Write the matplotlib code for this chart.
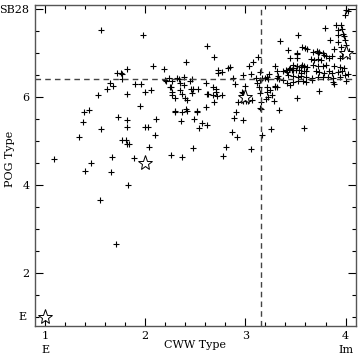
import numpy as np
import matplotlib
matplotlib.use("Agg")
import matplotlib.pyplot as plt
from matplotlib.ticker import MultipleLocator

# CWW type vs POG type for each galaxy
cww = [
    1.09, 1.34, 1.38, 1.39, 1.44, 1.40, 1.46, 1.56, 1.55, 1.71, 1.83, 1.66, 1.67, 1.89,
    1.73, 1.82, 1.82, 1.95, 2.00, 2.03, 2.11, 2.10, 1.77, 1.81, 1.82, 1.84, 2.04, 2.26,
    2.37, 2.48, 2.30, 2.37, 2.42, 2.52, 2.36, 2.49, 2.54, 2.57, 2.62, 2.61, 2.69, 2.91,
    2.89, 2.98, 3.16, 3.34, 2.87, 2.92, 3.17, 3.26, 3.59, 2.81, 2.78, 3.06, 2.93, 2.98,
    3.01, 3.03, 3.16, 3.29,
    1.56, 1.98, 2.08, 2.19, 1.82, 1.72, 1.76, 1.77, 1.77, 1.65, 1.68, 1.62, 1.53, 1.82,
    1.90, 1.96, 2.00, 2.06, 2.20, 2.21, 2.32, 2.26, 2.27, 2.30, 2.62, 2.69, 2.73, 2.77,
    2.73, 2.83, 2.24, 2.27, 2.34, 2.39, 2.45, 2.25, 2.27, 2.35, 2.37, 2.39, 2.40, 2.42,
    2.46, 2.48, 2.47, 2.53, 2.61, 2.62, 2.68, 2.71, 2.68, 2.72, 2.77, 2.30, 2.41, 2.52,
    2.41, 2.47, 2.35, 2.63, 2.71,
    3.04, 3.08, 3.13, 2.98, 3.06, 3.15, 3.24, 3.32, 2.90, 2.88, 2.97, 2.98, 3.12, 3.14,
    3.15, 3.20, 3.22, 3.25, 3.30, 3.34, 3.32, 3.21, 3.00, 3.00, 2.97, 3.07, 3.15, 3.22,
    3.23, 3.27, 3.15, 3.30, 3.33, 3.45, 3.47, 3.42, 3.43, 3.11, 3.17, 3.22, 3.23, 3.38,
    3.42, 3.45, 3.30, 3.32, 2.85,
    3.35, 3.43, 3.52, 3.53, 3.57, 3.62, 3.67, 3.72, 3.77, 3.78, 3.79, 3.84, 3.90, 3.92,
    3.95, 3.96, 3.97, 3.98, 4.00, 3.99, 4.02, 3.92, 3.92, 3.88, 3.95, 3.60, 3.71, 3.73,
    3.80, 3.83, 3.86, 3.94, 3.96, 3.98, 4.01, 4.03, 3.52, 3.45, 3.52, 3.65, 3.68, 3.72,
    3.75, 3.67, 3.72, 3.77, 3.80, 3.88, 3.94, 3.98, 3.48, 3.52, 3.56, 3.57, 3.59, 3.62,
    3.48, 3.51, 3.54, 3.59, 3.61, 3.70, 3.73, 3.78, 3.83, 3.86, 3.92, 3.96, 3.48, 3.53,
    3.56, 3.61, 3.72, 3.77, 3.82, 3.87, 3.94, 3.99, 4.02, 3.48, 3.53, 3.58, 3.61, 3.66,
    3.66, 3.87, 3.88, 4.00, 3.73, 3.52, 3.38, 3.41, 3.44, 3.48, 3.56, 3.99, 4.00,
]
pog = [
    4.59, 5.10, 5.45, 5.66, 5.71, 4.33, 4.50, 5.28, 3.67, 2.66, 4.00, 4.30, 4.64, 4.61,
    5.55, 5.48, 5.33, 5.80, 5.32, 5.32, 5.51, 5.14, 5.03, 5.04, 4.94, 4.93, 4.88, 4.69,
    4.64, 4.84, 5.67, 5.67, 5.70, 5.67, 5.46, 5.51, 5.31, 5.41, 5.38, 5.77, 5.90, 5.66,
    5.52, 5.48, 5.73, 5.72, 5.20, 5.10, 5.14, 5.28, 5.30, 4.86, 4.67, 4.83, 5.90, 5.91,
    5.91, 5.91, 5.90, 5.92,
    7.53, 7.42, 6.71, 6.64, 6.64, 6.56, 6.55, 6.53, 6.41, 6.33, 6.26, 6.20, 6.05, 6.07,
    6.30, 6.30, 6.11, 6.16, 6.40, 6.36, 6.45, 6.23, 6.05, 5.98, 7.17, 6.91, 6.62, 6.58,
    6.55, 6.67, 6.43, 6.38, 6.41, 6.47, 6.37, 6.24, 6.13, 6.17, 6.08, 6.28, 5.99, 5.95,
    6.18, 6.20, 6.09, 6.19, 6.32, 6.08, 6.24, 6.20, 6.05, 6.03, 6.05, 5.69, 5.73, 5.69,
    6.81, 6.41, 6.32, 6.07, 6.11,
    6.72, 6.80, 6.92, 6.51, 6.53, 6.57, 6.53, 6.60, 6.30, 6.43, 6.13, 6.09, 6.33, 6.24,
    6.39, 6.43, 6.23, 6.17, 6.23, 6.41, 6.45, 5.97, 6.26, 6.05, 6.05, 5.94, 6.09, 6.13,
    6.01, 6.05, 5.75, 6.71, 6.49, 6.67, 6.62, 6.58, 6.51, 6.43, 6.43, 6.47, 6.41, 6.39,
    6.32, 6.28, 6.26, 6.23, 6.70,
    7.28, 7.08, 6.98, 7.42, 7.15, 7.11, 7.04, 7.01, 7.00, 6.96, 7.57, 7.30, 7.64, 7.53,
    7.65, 7.55, 7.45, 7.40, 7.98, 7.87, 7.96, 7.42, 7.26, 7.11, 7.15, 7.12, 7.05, 7.03,
    6.93, 6.90, 6.93, 6.90, 6.95, 7.02, 6.95, 7.05, 7.00, 6.89, 6.89, 6.87, 6.86, 6.88,
    6.85, 6.73, 6.72, 6.71, 6.73, 6.72, 6.70, 6.66, 6.73, 6.72, 6.70, 6.74, 6.72, 6.70,
    6.62, 6.62, 6.63, 6.60, 6.59, 6.60, 6.58, 6.56, 6.59, 6.56, 6.58, 6.60, 6.48, 6.46,
    6.48, 6.46, 6.46, 6.47, 6.47, 6.45, 6.47, 6.50, 6.53, 6.35, 6.36, 6.38, 6.35, 6.39,
    6.43, 6.34, 6.30, 6.37, 6.14, 5.99, 6.60, 6.62, 6.64, 6.66, 6.55, 7.30, 7.20,
]

# template types (stars)
star_cww = [1, 2, 3, 4]
star_pog = [1, 4.5, 6.0, 7.0]

cww_cut = 3.157
pog_cut = 6.42

plt.rcParams['font.family'] = ['DejaVu Serif']

fig = plt.figure(figsize=(3.61, 3.57), dpi=100)
ax = fig.add_axes([0.097, 0.087, 0.888, 0.899])

ax.plot(cww, pog, linestyle='none', marker='+', color='black', markersize=4.5, markeredgewidth=0.8)
ax.plot(star_cww, star_pog, linestyle='none', marker='*', markersize=11,
        markerfacecolor='white', markeredgecolor='black', markeredgewidth=0.7)

ax.axhline(pog_cut, color='#444444', lw=1, dashes=(4, 3))
ax.axvline(cww_cut, color='#444444', lw=1, dashes=(4, 3))

ax.set_xlim(0.9, 4.1)
ax.set_ylim(0.8, 8.1)

ax.set_xticks([1, 2, 3, 4])
ax.set_xticklabels(['1\nE', '2', '3', '4\nIm'], linespacing=1.5)
ax.xaxis.set_minor_locator(MultipleLocator(0.2))
ax.set_yticks([2, 4, 6, 8])
ax.set_yticklabels(['2', '4', '6', 'SB28'])
ax.yaxis.set_minor_locator(MultipleLocator(0.5))
ax.text(-0.025, (1 - 0.8) / (8.1 - 0.8), 'E', transform=ax.transAxes,
        ha='right', va='center', fontsize=8)

ax.tick_params(which='both', direction='in', top=True, right=True, labelsize=8, width=0.8)
ax.tick_params(which='major', length=6, pad=4)
ax.tick_params(which='minor', length=3)
for s in ax.spines.values():
    s.set_linewidth(1)
    s.set_color('#555555')

ax.set_xlabel('CWW Type', fontsize=8, labelpad=-11)
ax.set_ylabel('POG Type', fontsize=8)
ax.yaxis.set_label_coords(-0.062, 0.52)

fig.savefig('out.png', dpi=100)
